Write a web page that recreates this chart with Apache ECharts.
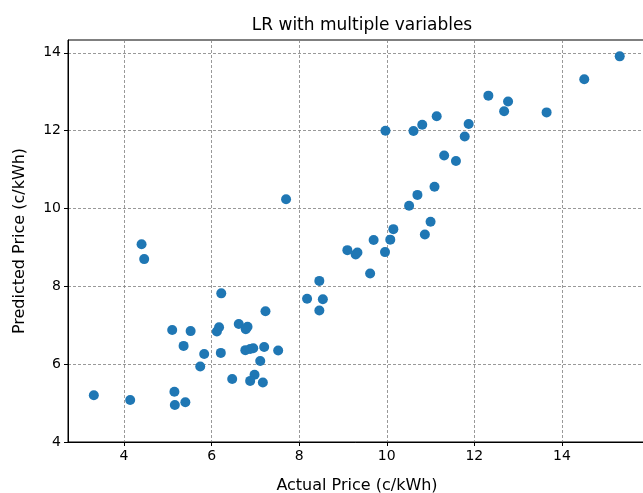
<!DOCTYPE html>
<html lang="en">
<head>
<meta charset="UTF-8">
<title>LR with multiple variables</title>
<script src="https://cdn.jsdelivr.net/npm/echarts@6/dist/echarts.min.js"></script>
<style>
  html, body { margin: 0; padding: 0; background: #fff; }
  #chart { width: 643px; height: 493px; }
</style>
</head>
<body>
<div id="chart"></div>
<script>
// actual vs predicted price (c/kWh)
var actual = [3.31, 4.14, 4.40, 4.46, 5.15, 5.16, 5.40, 5.10, 5.52, 5.36, 5.83, 5.74,
    6.22, 6.17, 6.12, 6.21, 6.47, 6.62, 6.82, 6.78, 7.23, 6.77, 6.88, 6.95, 7.20,
    7.52, 7.11, 6.98, 6.88, 7.17, 7.70, 8.46, 8.18, 8.54, 8.46, 9.10, 9.29, 9.33,
    9.70, 9.96, 9.62, 10.08, 10.15, 10.87, 11.00, 10.51, 10.70, 11.09, 11.31, 11.58,
    11.78, 11.87, 9.97, 10.61, 10.81, 11.14, 12.32, 12.77, 12.68, 13.65, 14.51, 15.32];
var predicted = [5.20, 5.08, 9.08, 8.70, 5.29, 4.95, 5.02, 6.88, 6.85, 6.47, 6.26, 5.94,
    7.82, 6.95, 6.84, 6.29, 5.62, 7.03, 6.96, 6.90, 7.36, 6.36, 6.39, 6.41, 6.44,
    6.35, 6.08, 5.73, 5.57, 5.53, 10.24, 8.14, 7.68, 7.67, 7.38, 8.93, 8.82, 8.87,
    9.19, 8.88, 8.33, 9.20, 9.47, 9.33, 9.66, 10.07, 10.35, 10.56, 11.36, 11.22,
    11.85, 12.17, 12.00, 11.99, 12.15, 12.37, 12.90, 12.75, 12.50, 12.47, 13.32, 13.91];
var xTicks = [4, 6, 8, 10, 12, 14];
var yTicks = [4, 6, 8, 10, 12, 14];

var points = [];
for (var i = 0; i < actual.length; i++) {
    points.push([actual[i], predicted[i]]);
}

var font = 'DejaVu Sans';
var gridLine = { show: true, lineStyle: { color: '#7f7f7f', type: [3, 2], width: 0.8 } };

var chart = echarts.init(document.getElementById('chart'));
chart.setOption({
    animation: false,
    title: {
        text: 'LR with multiple variables',
        left: 357,
        top: 12,
        textAlign: 'center',
        textStyle: { fontFamily: font, fontSize: 17, fontWeight: 'normal', color: '#000' }
    },
    grid: {
        left: 68, top: 40, right: -3, bottom: 51,
        show: true, borderColor: '#000', borderWidth: 1,
        containLabel: false,
        outerBoundsMode: 'none'
    },
    xAxis: {
        type: 'value',
        min: 2.72, max: 15.92,
        name: 'Actual Price (c/kWh)',
        nameLocation: 'middle',
        nameGap: 36,
        nameTextStyle: { fontFamily: font, fontSize: 16, color: '#000' },
        axisLine: { show: true, onZero: false, lineStyle: { color: '#000', width: 1 } },
        axisTick: { show: true, customValues: xTicks, length: 4, inside: false, lineStyle: { color: '#000' } },
        axisLabel: { customValues: xTicks, fontFamily: font, fontSize: 14, color: '#000', margin: 7 },
        splitLine: gridLine
    },
    yAxis: {
        type: 'value',
        min: 4, max: 14.33,
        name: 'Predicted Price (c/kWh)',
        nameLocation: 'middle',
        nameGap: 40,
        nameTextStyle: { fontFamily: font, fontSize: 16, color: '#000' },
        axisLine: { show: true, onZero: false, lineStyle: { color: '#000', width: 1 } },
        axisTick: { show: true, customValues: yTicks, length: 4, inside: false, lineStyle: { color: '#000' } },
        axisLabel: { customValues: yTicks, fontFamily: font, fontSize: 14, color: '#000', margin: 7 },
        splitLine: gridLine
    },
    series: [{
        type: 'scatter',
        data: points,
        symbolSize: 10,
        itemStyle: { color: '#1f77b4', opacity: 1 }
    }]
});
</script>
</body>
</html>
